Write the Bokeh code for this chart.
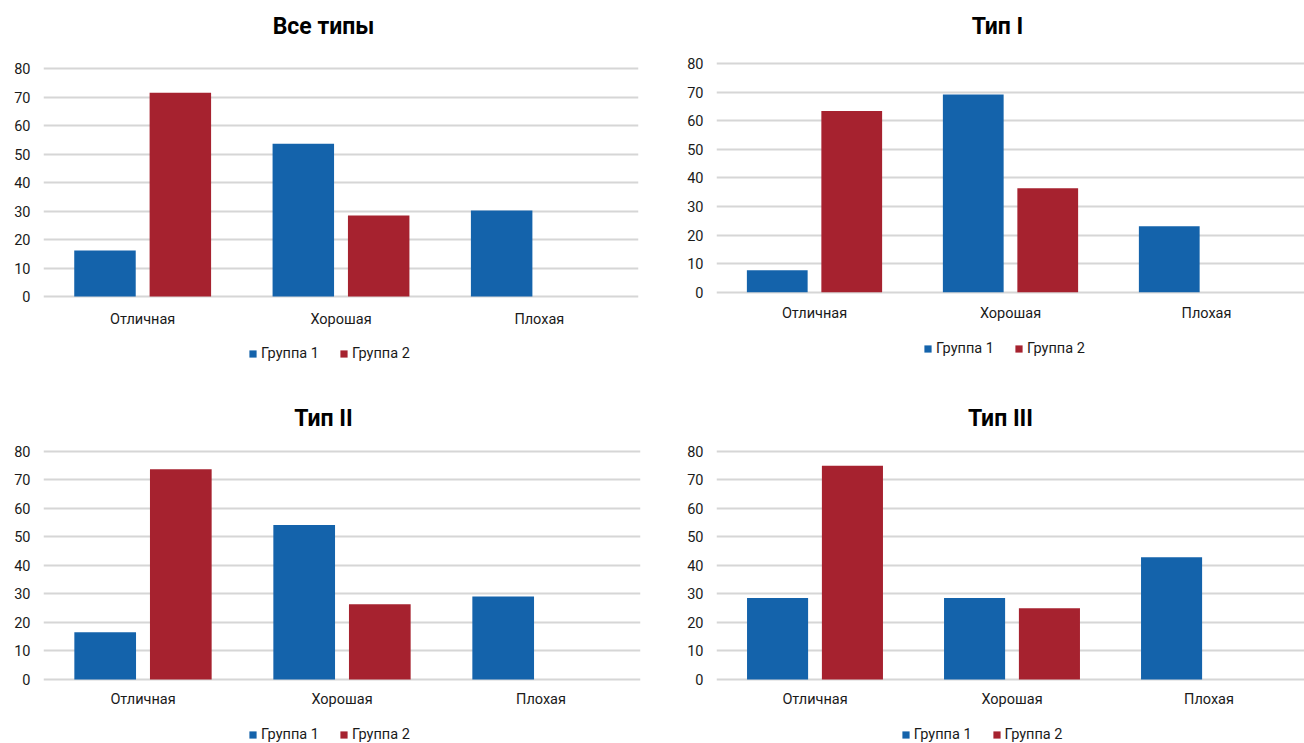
from bokeh.plotting import figure
from bokeh.models import (ColumnDataSource, FactorRange, Range1d, Legend, LegendItem,
                          FixedTicker, Label)
from bokeh.core.properties import value
from bokeh.transform import dodge
from bokeh.layouts import gridplot
from bokeh.embed import file_html
from bokeh.resources import INLINE

categories = ["Отличная", "Хорошая", "Плохая"]
series_names = ["Группа 1", "Группа 2"]
titles = ["Все типы", "Тип I", "Тип II", "Тип III"]
y_ticks = [0, 10, 20, 30, 40, 50, 60, 70, 80]

all_g1 = [16.1, 53.6, 30.2]
all_g2 = [71.5, 28.4, 0]
t1_g1 = [7.7, 69.2, 23.1]
t1_g2 = [63.4, 36.4, 0]
t2_g1 = [16.6, 54.2, 29.1]
t2_g2 = [73.8, 26.4, 0]
t3_g1 = [28.6, 28.6, 42.9]
t3_g2 = [75.0, 25.0, 0]

panels = [
    (titles[0], all_g1, all_g2),
    (titles[1], t1_g1, t1_g2),
    (titles[2], t2_g1, t2_g2),
    (titles[3], t3_g1, t3_g2),
]

BLUE = "#1463ab"
RED = "#a6222f"
FONT = "Roboto"

# per-panel layout: frame width, frame height, left border, right border,
# y range (low, high), category label y, title x/y (px from frame bottom-left), legend x/y
LAYOUT = [
    dict(fw=595, fh=390, left=43, right=14, ylo=-32.98, yhi=103.86, caty=-8.1, tx=280, ty=364, lx=205, ly=28),
    dict(fw=588, fh=390, left=64, right=0, ylo=-34.4, yhi=102.1, caty=-7.4, tx=281, ty=364, lx=207, ly=33),
    dict(fw=597, fh=353, left=43, right=12, ylo=-22.46, yhi=101.4, caty=-7.0, tx=280, ty=325, lx=205, ly=0),
    dict(fw=591, fh=353, left=61, right=0, ylo=-22.46, yhi=101.4, caty=-7.0, tx=284, ty=325, lx=207, ly=0),
]


def make_panel(title, g1, g2, c):
    p = figure(
        x_range=FactorRange(*categories), y_range=Range1d(c["ylo"], c["yhi"]),
        frame_width=c["fw"], frame_height=c["fh"], output_backend="svg", toolbar_location=None,
        min_border_left=c["left"], min_border_right=c["right"],
        min_border_top=0, min_border_bottom=0,
    )
    src = ColumnDataSource(dict(cat=categories, g1=g1, g2=g2, lab=categories,
                                ly=[c["caty"]] * len(categories)))
    r1 = p.vbar(x=dodge("cat", -0.19, range=p.x_range), top="g1", width=0.31,
                source=src, fill_color=BLUE, line_color=None)
    r2 = p.vbar(x=dodge("cat", 0.19, range=p.x_range), top="g2", width=0.31,
                source=src, fill_color=RED, line_color=None)
    p.text(x="cat", y="ly", text="lab", source=src, text_align="center",
           text_baseline="middle", text_font=value(FONT), text_font_size="14.5px",
           text_color="#1a1a1a")
    p.outline_line_color = None
    p.background_fill_color = "white"
    p.border_fill_color = "white"
    p.xaxis.visible = False
    p.xgrid.grid_line_color = None
    p.ygrid.grid_line_color = "#d6d6d6"
    p.ygrid.grid_line_width = 2
    p.yaxis.ticker = FixedTicker(ticks=y_ticks)
    p.ygrid.ticker = FixedTicker(ticks=y_ticks)
    ax = p.yaxis
    ax.axis_line_color = None
    ax.major_tick_line_color = None
    ax.minor_tick_line_color = None
    ax.major_tick_out = 0
    ax.major_tick_in = 0
    ax.major_label_text_font = FONT
    ax.major_label_text_color = "#1a1a1a"
    ax.major_label_text_font_size = "14.5px"
    ax.major_label_standoff = 13

    p.add_layout(Label(x=c["tx"], y=c["ty"], x_units="screen", y_units="screen", text=title,
                       text_align="center", text_baseline="middle",
                       text_font=FONT, text_font_size="23px", text_font_style="bold",
                       text_color="#000000"))

    legend = Legend(items=[LegendItem(label=series_names[0], renderers=[r1]),
                           LegendItem(label=series_names[1], renderers=[r2])],
                    orientation="horizontal", location=(c["lx"], c["ly"]))
    legend.border_line_color = None
    legend.background_fill_alpha = 0
    legend.label_text_font = FONT
    legend.label_text_font_size = "14.5px"
    legend.label_text_color = "#1a1a1a"
    legend.glyph_width = 9
    legend.glyph_height = 9
    legend.label_height = 14
    legend.label_standoff = 4
    legend.spacing = 20
    legend.margin = 0
    legend.padding = 2
    p.add_layout(legend)
    return p


figs = [make_panel(t, a, b, LAYOUT[i]) for i, (t, a, b) in enumerate(panels)]

layout = gridplot([[figs[0], figs[1]], [figs[2], figs[3]]], toolbar_location=None)
open("out.html", "w").write(file_html(layout, INLINE))
